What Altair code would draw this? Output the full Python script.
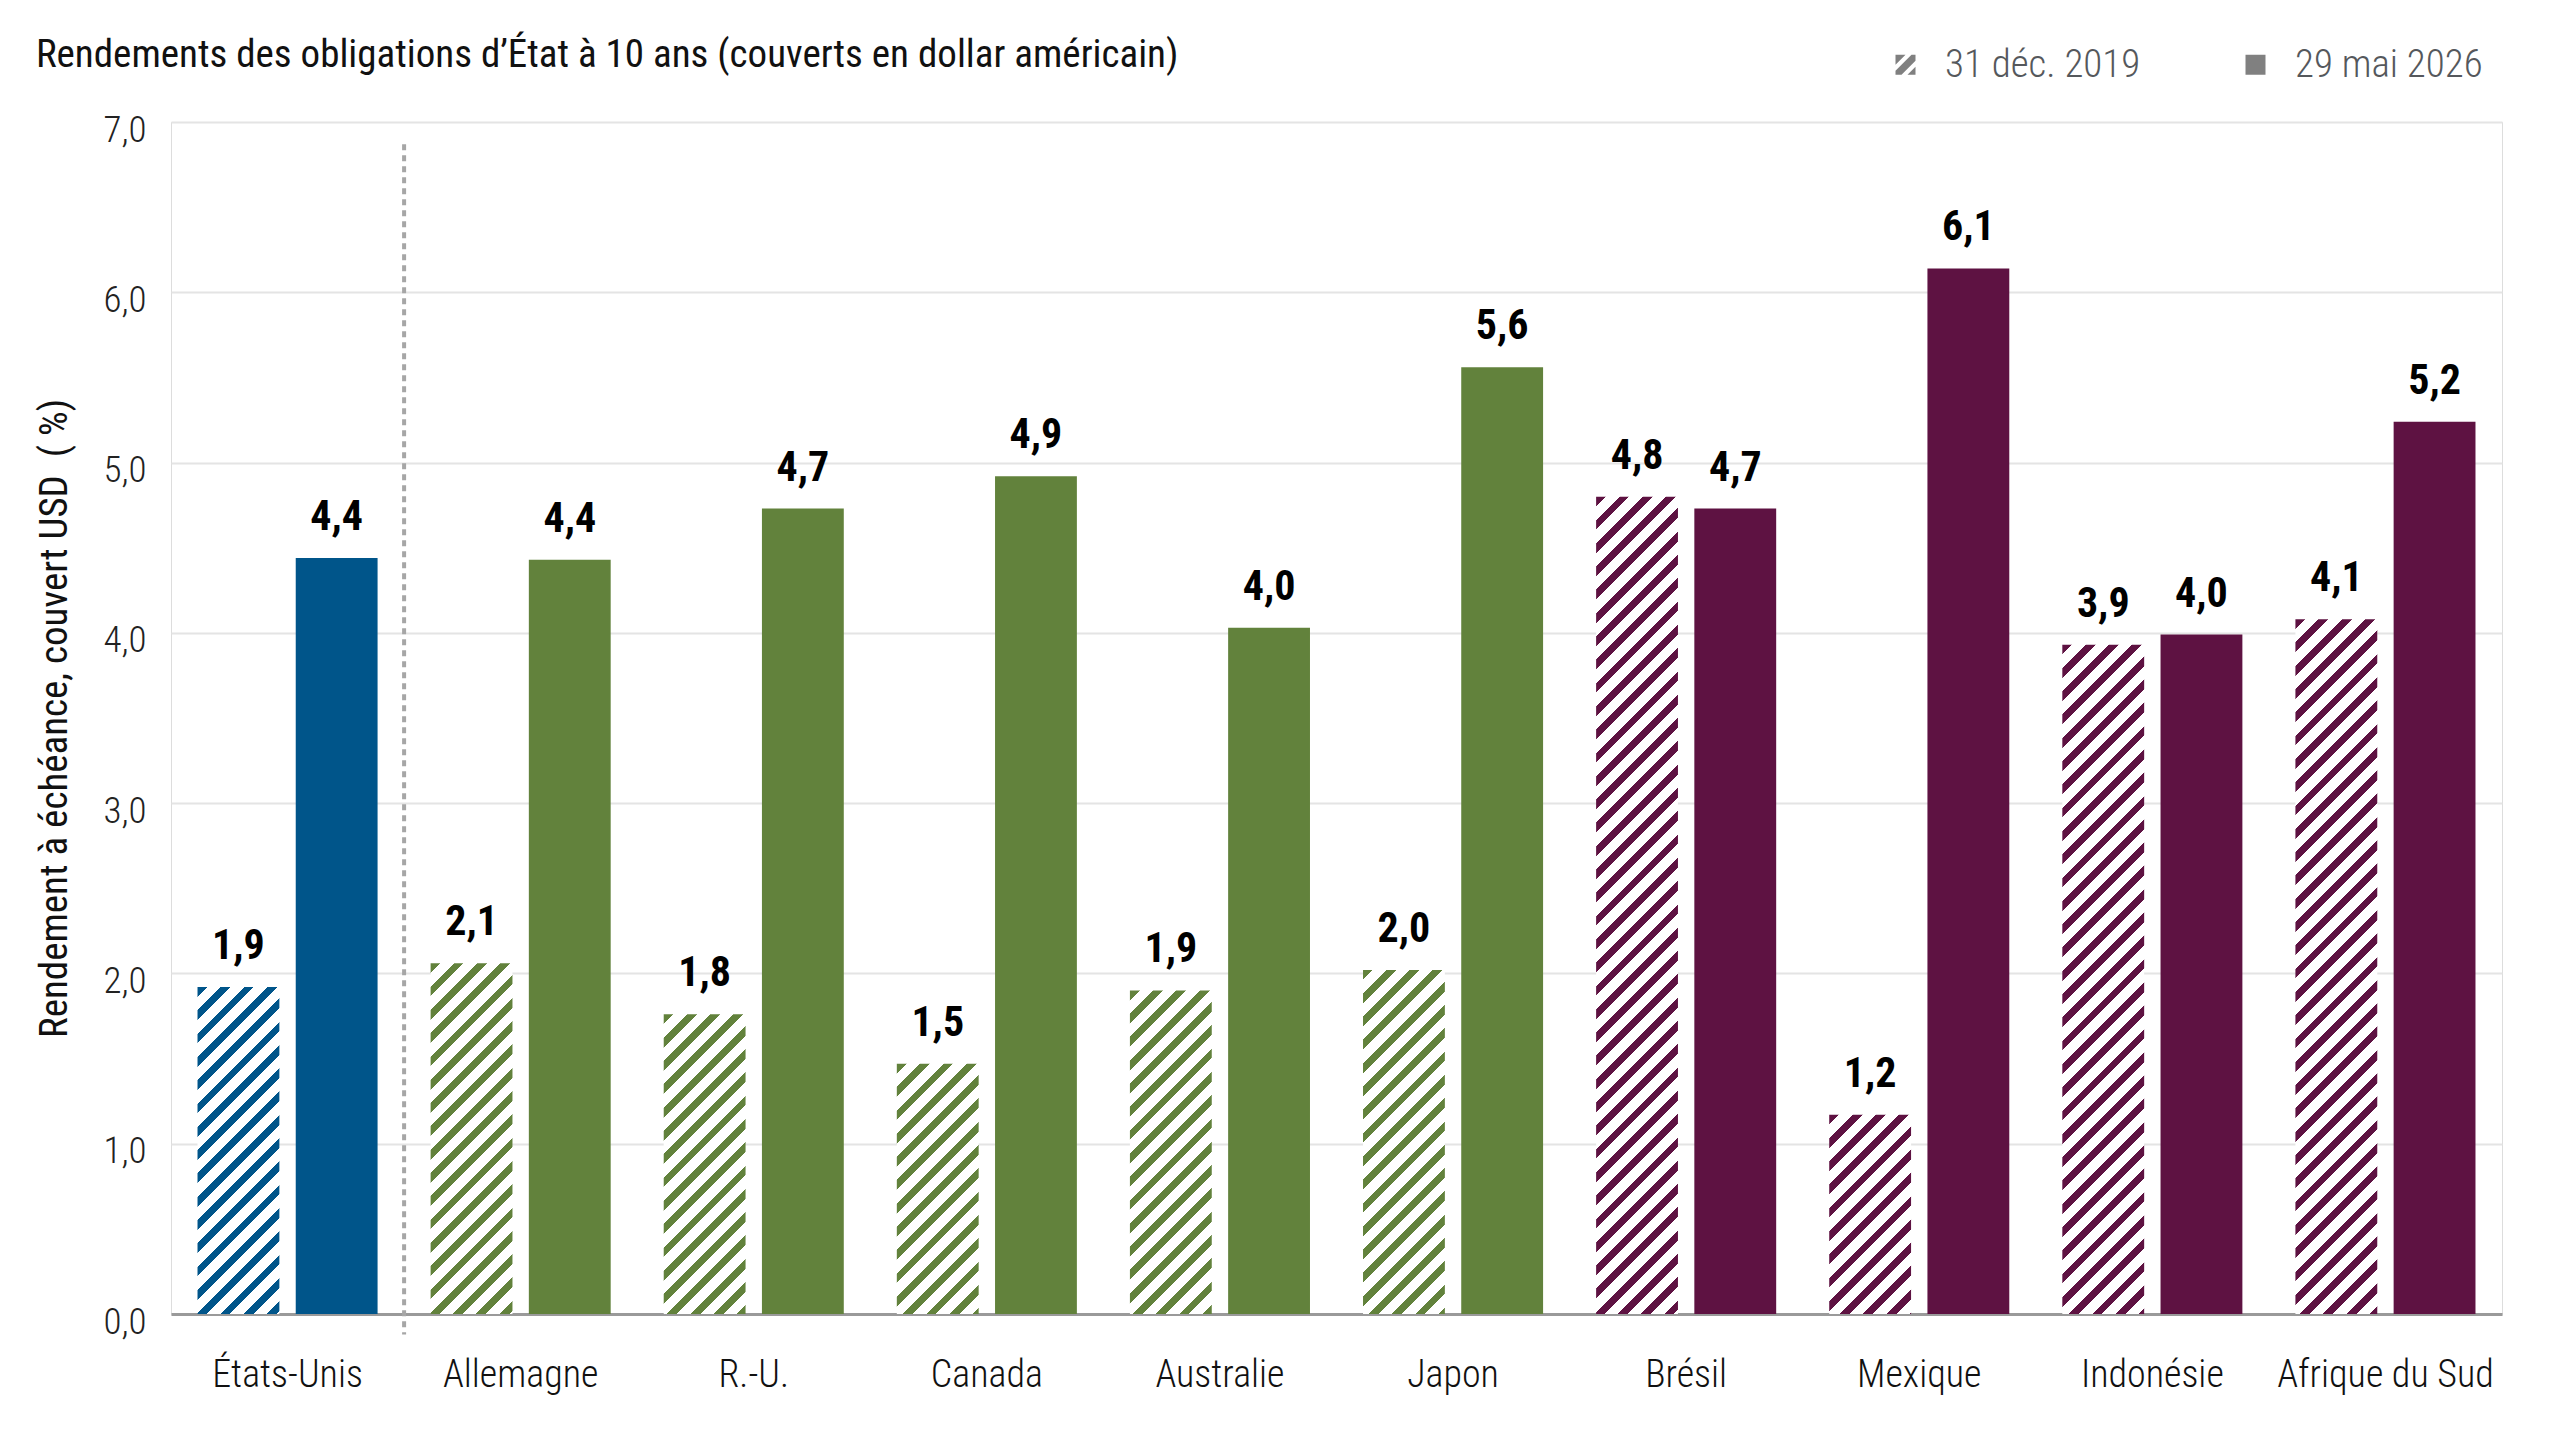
import altair as alt

# ---------------- data ----------------
countries = ["États-Unis", "Allemagne", "R.-U.", "Canada", "Australie", "Japon",
             "Brésil", "Mexique", "Indonésie", "Afrique du Sud"]
periods = ["31 déc. 2019", "29 mai 2026"]
yield_2019 = [1.92, 2.06, 1.76, 1.47, 1.90, 2.02, 4.80, 1.17, 3.93, 4.08]
yield_2026 = [4.44, 4.43, 4.73, 4.92, 4.03, 5.56, 4.73, 6.14, 3.99, 5.24]
groups = ["us", "dm", "dm", "dm", "dm", "dm", "em", "em", "em", "em"]
group_colors = {"us": "#00558A", "dm": "#62823C", "em": "#5E1242"}

TITLE = "Rendements des obligations d’État à 10 ans (couverts en dollar américain)"
Y_TITLE = "Rendement à échéance, couvert USD\u00a0 (\u00a0%)"

# ---------------- layout / style ----------------
FONT = "Liberation Sans Narrow, Roboto Condensed, DejaVu Sans Condensed, Roboto, sans-serif"
W, H, YMAX = 2331, 1192, 7
PI, PO = 0.1667, 0.27          # xOffset band paddings
band = W / len(countries)
step = band / (2 - PI + 2 * PO)
BAR_W = step * (1 - PI)
PERIOD = 23.3                   # horizontal hatch period (px)
FRAC = 0.42                     # coloured share of each hatch period


def hatch(color, value):
    """Diagonal '/' hatch as an SVG linear gradient in bbox units."""
    w = BAR_W
    h = value * H / YMAX
    s = w + h
    k = s / (w * w + h * h)
    a, b = w * k, h * k
    dt = PERIOD / s
    stops = []
    t = 0.0
    while t < 1 - 1e-9:
        t1 = min(t + FRAC * dt, 1.0)
        t2 = min(t + dt, 1.0)
        stops += [
            {"offset": round(t, 5), "color": color},
            {"offset": round(t1, 5), "color": color},
            {"offset": round(t1, 5), "color": "#ffffff"},
            {"offset": round(t2, 5), "color": "#ffffff"},
        ]
        t = t2
    return {"gradient": "linear", "x1": 0, "y1": 0,
            "x2": round(a, 5), "y2": round(b, 5), "stops": stops}


records = []
for c, g, v1, v2 in zip(countries, groups, yield_2019, yield_2026):
    col = group_colors[g]
    records.append({"country": c, "period": periods[0], "value": v1,
                    "fillv": hatch(col, v1), "label": f"{v1:.1f}".replace(".", ",")})
    records.append({"country": c, "period": periods[1], "value": v2,
                    "fillv": col, "label": f"{v2:.1f}".replace(".", ",")})

data = alt.Data(values=records)

x = alt.X("country:N", sort=countries,
          scale=alt.Scale(paddingInner=0, paddingOuter=0),
          axis=alt.Axis(title=None, labelAngle=0, domain=True, domainColor="#9a9a9a",
                        domainWidth=3, ticks=False, tickSize=0, labelPadding=42,
                        labelLimit=0, labelFont=FONT, labelFontSize=38,
                        labelFontWeight=300, labelColor="#111111", grid=False))
xo = alt.XOffset("period:N", sort=periods,
                 scale=alt.Scale(paddingInner=PI, paddingOuter=PO))
y = alt.Y("value:Q", stack=None, scale=alt.Scale(domain=[0, YMAX], nice=False, zero=True),
          axis=alt.Axis(title=Y_TITLE, values=list(range(0, 8)), domain=False, ticks=False,
                        tickSize=0, grid=True, gridColor="#e4e4e4", gridWidth=2,
                        labelExpr="replace(format(datum.value, '.1f'), '.', ',')",
                        labelFont=FONT, labelFontSize=37, labelFontWeight=300,
                        labelColor="#222222", labelPadding=25, labelOffset=8,
                        titleFont=FONT, titleFontSize=39, titleFontWeight="normal",
                        titleColor="#111111", titlePadding=28))

bars = alt.Chart(data).mark_bar().encode(
    x=x, xOffset=xo, y=y, fill=alt.Fill("fillv:N", scale=None)
)

labels = alt.Chart(data).mark_text(
    font=FONT, fontSize=42, fontWeight="bold", color="#000000",
    baseline="alphabetic", dy=-28
).encode(x=x, xOffset=xo, y=y, text="label:N")

HATCH_PATH = ("M-1,-1L0,-1L-1,0Z "
              "M0.6,-1L1,-1L1,-0.4L-0.4,1L-1,1L-1,0.6Z "
              "M1,0.2L1,1L0.2,1Z")

legend_pts = alt.Chart(data).mark_point(filled=True, opacity=0, color="#808080", size=10).encode(
    x=x, xOffset=xo, y=y,
    shape=alt.Shape("period:N", sort=periods,
                    scale=alt.Scale(domain=periods, range=[HATCH_PATH, "square"]),
                    legend=alt.Legend(title=None, orient="none", legendX=1715, legendY=-77,
                                      direction="horizontal", symbolSize=400,
                                      symbolFillColor="#808080", symbolStrokeWidth=0,
                                      symbolOpacity=1, labelFont=FONT, labelFontSize=39,
                                      labelFontWeight=300, labelLimit=0,
                                      labelColor="#55585c", labelOffset=20,
                                      columnPadding=95))
)

sep = alt.Chart(alt.Data(values=[{}])).mark_rule(
    strokeDash=[6, 5], strokeWidth=4, color="#a6a6a6"
).encode(
    x=alt.XDatum("Allemagne", type="nominal", bandPosition=0),
    y=alt.YDatum(6.87),
    y2=alt.Y2Datum(-0.12),
)

chart = alt.layer(bars, sep, labels, legend_pts).properties(
    width=W, height=H,
    padding={"left": 27, "top": 28, "right": 10, "bottom": 10},
    title=alt.TitleParams(TITLE, anchor="start", frame="bounds", font=FONT, fontSize=39,
                          fontWeight="normal", color="#111111", offset=-30),
).configure_view(strokeWidth=0).configure(background="white")

chart.save("out.html", embed_options={"renderer": "svg", "actions": False})
